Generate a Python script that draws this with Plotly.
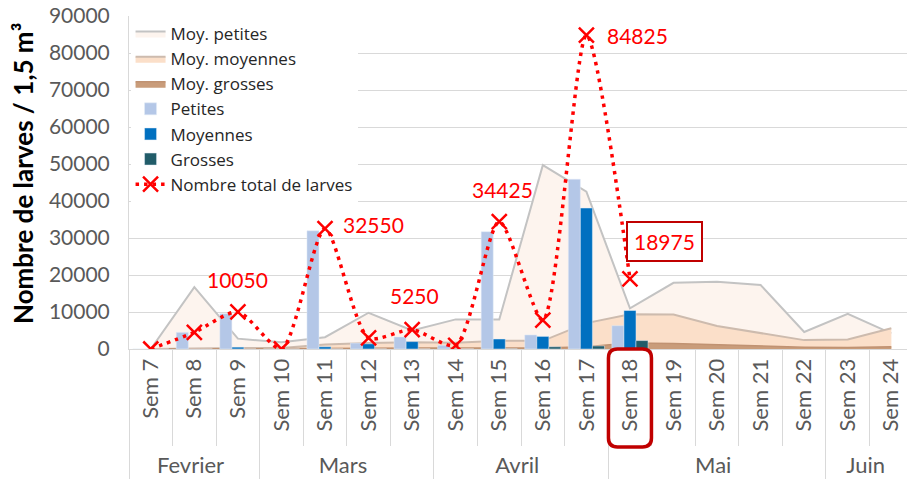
import plotly.graph_objects as go

# ---------------- data ----------------
weeks = ["Sem 7", "Sem 8", "Sem 9", "Sem 10", "Sem 11", "Sem 12", "Sem 13", "Sem 14", "Sem 15",
         "Sem 16", "Sem 17", "Sem 18", "Sem 19", "Sem 20", "Sem 21", "Sem 22", "Sem 23", "Sem 24"]
months = ["Fevrier", "Fevrier", "Fevrier", "Mars", "Mars", "Mars", "Mars", "Avril", "Avril",
          "Avril", "Avril", "Mai", "Mai", "Mai", "Mai", "Mai", "Juin", "Juin"]

moy_petites = [0, 16700, 2800, 1800, 3200, 9800, 5000, 8000, 8000, 49700, 42500, 11000,
               17900, 18200, 17300, 4600, 9500, 4200]
moy_moyennes = [0, 200, 300, 300, 1200, 1600, 1800, 1700, 2200, 2200, 7000, 9400,
                9300, 6200, 4400, 2400, 2600, 5600]
moy_grosses = [0, 0, 0, 0, 100, 200, 300, 300, 300, 300, 600, 1600,
               1500, 1100, 800, 500, 400, 600]

petites = [0, 4500, 9550, 0, 31950, 1600, 3250, 1000, 31700, 3800, 45900, 6300,
           None, None, None, None, None, None]
moyennes = [0, 0, 500, 0, 600, 1400, 2000, 0, 2700, 3400, 38100, 10400,
            None, None, None, None, None, None]
grosses = [0, 0, 0, 0, 0, 0, 0, 0, 25, 600, 825, 2275,
           None, None, None, None, None, None]
totals = [0, 4500, 10050, 0, 32550, 3000, 5250, 1000, 34425, 7800, 84825, 18975,
          None, None, None, None, None, None]

label_weeks = ["Sem 9", "Sem 11", "Sem 13", "Sem 15", "Sem 17", "Sem 18"]
highlight_week = "Sem 18"

# ---------------- style / layout constants ----------------
W, H = 907, 479
ML, MR, MT, MB = 129, 0, 16, 130
XMAX = 17.36
FONT = "Lato"
GRID = "#D9D9D9"
TICKC = "#595959"
# label pixel offsets (x, y) relative to their point
label_offsets = {"Sem 9": (0, 32), "Sem 11": (48, 4), "Sem 13": (2, 34),
                 "Sem 15": (3, 32), "Sem 17": (51, 0), "Sem 18": (35, 37)}

x = [months, weeks]
fig = go.Figure()

# areas (behind, on primary axes)
fig.add_trace(go.Scatter(x=x, y=moy_petites, name="Moy. petites", mode="lines",
                         line=dict(color="#C3C3C3", width=2), fill="tozeroy",
                         fillcolor="#FDF4EE"))
fig.add_trace(go.Scatter(x=x, y=moy_moyennes, name="Moy. moyennes", mode="lines",
                         line=dict(color="#CDBBAE", width=2), fill="tozeroy",
                         fillcolor="#FBDFC9"))
fig.add_trace(go.Scatter(x=x, y=moy_grosses, name="Moy. grosses", mode="lines",
                         line=dict(color="#C09272", width=1.5), fill="tozeroy",
                         fillcolor="#C99C7A"))

# bars (overlay axes so they sit above the areas)
fig.add_trace(go.Bar(x=x, y=petites, name="Petites", marker_color="#B4C7E7",
                     xaxis="x2", yaxis="y2"))
fig.add_trace(go.Bar(x=x, y=moyennes, name="Moyennes", marker_color="#0070C0",
                     xaxis="x2", yaxis="y2"))
fig.add_trace(go.Bar(x=x, y=grosses, name="Grosses", marker_color="#215C69",
                     xaxis="x2", yaxis="y2"))

fig.add_trace(go.Scatter(x=x, y=totals, name="Nombre total de larves",
                         mode="lines+markers", xaxis="x2", yaxis="y2",
                         line=dict(color="#FF0000", width=3.5, dash="3.5px,5px",
                                   shape="spline", smoothing=0.7),
                         marker=dict(symbol="x-thin", size=15, color="#FF0000",
                                     line=dict(color="#FF0000", width=2.5)),
                         connectgaps=False))

# value labels
plot_w = W - ML - MR
plot_h = H - MT - MB
for wk in label_weeks:
    i = weeks.index(wk)
    dx, dy = label_offsets[wk]
    boxed = wk == highlight_week
    fig.add_annotation(x=(i + 0.5) / (XMAX + 0.5), xref="paper", y=totals[i], yref="y",
                       xanchor="center", yanchor="middle",
                       text=f"{totals[i]}", showarrow=False, xshift=dx, yshift=dy,
                       font=dict(family=FONT, size=21, color="#FF0000"),
                       bordercolor="#C00000" if boxed else "rgba(0,0,0,0)",
                       borderwidth=2 if boxed else 0,
                       borderpad=6 if boxed else 0,
                       bgcolor="white" if boxed else "rgba(0,0,0,0)")

# y title
fig.add_annotation(text="Nombre de larves / 1,5 m³", xref="paper", yref="paper",
                   x=(23 - ML) / plot_w, y=(H - MB - 174) / plot_h, textangle=-90,
                   xanchor="center", yanchor="middle",
                   showarrow=False, font=dict(family=FONT, size=26, color="black", weight="bold"))

# rounded box around highlighted tick label
hi = weeks.index(highlight_week)
cx = (hi + 0.5) / (XMAX + 0.5)
hw = 21.5 / plot_w
x0, x1 = cx - hw, cx + hw
y1 = 0.0
y0 = -(98 / plot_h)
rx, ry = 9 / plot_w, 9 / plot_h
path = (f"M {x0+rx},{y1} L {x1-rx},{y1} Q {x1},{y1} {x1},{y1-ry} "
        f"L {x1},{y0+ry} Q {x1},{y0} {x1-rx},{y0} L {x0+rx},{y0} "
        f"Q {x0},{y0} {x0},{y0+ry} L {x0},{y1-ry} Q {x0},{y1} {x0+rx},{y1} Z")
fig.add_shape(type="path", path=path, xref="paper", yref="paper",
              line=dict(color="#C00000", width=3.5), layer="above")

fig.update_layout(
    width=W, height=H,
    margin=dict(l=ML, r=MR, t=MT, b=MB, autoexpand=False),
    plot_bgcolor="white", paper_bgcolor="white",
    font=dict(family=FONT, color="#404040"),
    barmode="group", bargap=0.17, bargroupgap=0,
    showlegend=True,
    legend=dict(x=0.002, y=1, xanchor="left", yanchor="top", bgcolor="white",
                font=dict(family="Open Sans", size=17, color="#262626"),
                traceorder="normal", tracegroupgap=0, itemwidth=30),
    xaxis=dict(type="multicategory", range=[-0.5, XMAX], tickangle=-90,
               tickfont=dict(family=FONT, size=22, color=TICKC),
               showdividers=True, dividercolor=GRID, dividerwidth=1,
               ticks="outside", ticklen=96, tickcolor=GRID,
               showline=True, linecolor=GRID, showgrid=False, automargin=False),
    xaxis2=dict(type="multicategory", overlaying="x", range=[-0.5, XMAX], visible=False),
    yaxis=dict(range=[0, 90000], dtick=10000, tickformat="d", gridcolor=GRID, gridwidth=1,
               tickfont=dict(family=FONT, size=21, color=TICKC),
               showline=True, linecolor=GRID, zeroline=False, ticklabelstandoff=14,
               ticklabeloverflow="allow", automargin=False),
    yaxis2=dict(overlaying="y", range=[0, 90000], visible=False),
)

# remove the browser's default 8px body margin so the figure fills the window
fig.write_html("out.html", config={"displayModeBar": False},
               post_script="document.body.style.margin='0';document.body.style.overflow='hidden';")
